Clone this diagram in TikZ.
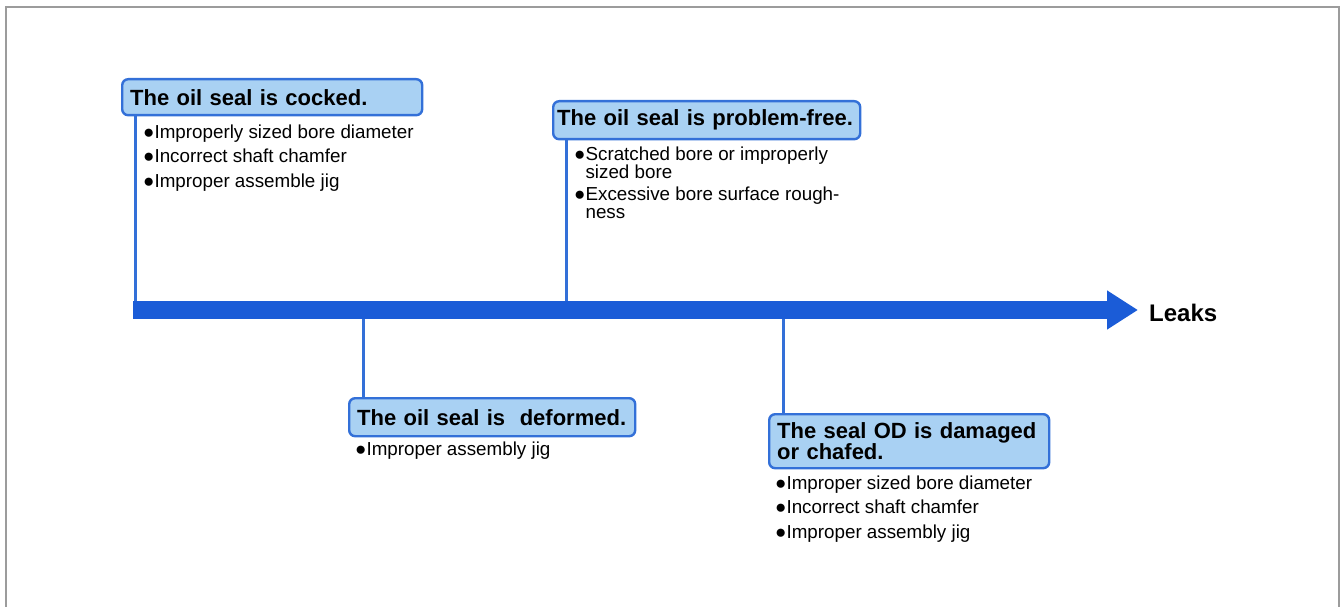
\documentclass[tikz,border=0pt]{standalone}
\usepackage{fontspec}
\setmainfont{Liberation Sans}
\usepackage{tikz}
\usetikzlibrary{arrows.meta, positioning}
\usepackage{xcolor}
\definecolor{sealfill}{HTML}{A9D1F3}
\definecolor{sealedge}{HTML}{3370D8}
\definecolor{barblue}{HTML}{1B5CD7}
\definecolor{framegray}{HTML}{9C9C9C}

\begin{document}
\begin{tikzpicture}[
  x=1pt, y=-1pt,
  cause/.style={
    draw=sealedge, fill=sealfill, line width=2.4pt, rounded corners=6pt,
    font=\bfseries\fontsize{22}{21}\selectfont, align=left,
    anchor=north west, inner xsep=8pt, inner ysep=0pt
  },
  items/.style={font=\fontsize{18.8}{24.5}\selectfont, align=left, inner sep=0pt},
  stem/.style={draw=sealedge, line width=3pt},
  bar/.style={draw=barblue, line width=18pt,
    -{Triangle[length=31pt,width=37pt]}}
]
\useasboundingbox (0,0) rectangle (1342,607);

% ---- frame (open at the bottom)
\draw[framegray, line width=1.6pt] (6,607) |- (1339,7) -- (1339,607);

% ---- the four causes
\node[cause, text width=284pt, minimum height=36pt] (cocked) at (121,78)
  {The oil seal is cocked.};
\node[cause, text width=299pt, inner xsep=4pt, minimum height=38pt] (okseal) at (552,100)
  {The oil seal is problem-free.};
\node[cause, text width=270pt, minimum height=38pt] (deformed) at (348,397)
  {The oil seal is\ \ deformed.};
\node[cause, text width=264pt, minimum height=54pt] (chafed) at (768,413)
  {The seal OD is damaged\\or chafed.};

% ---- what each cause comes from
\node[items, anchor=north west, below right=8pt and 22pt of cocked.south west] (cockedlist)
  {●Improperly sized bore diameter\\●Incorrect shaft chamfer\\●Improper assemble jig};
\node[items, font=\fontsize{18.8}{18.3}\selectfont, anchor=north west,
  below right=6pt and 22pt of okseal.south west] (oklist)
  {●Scratched bore or improperly\\\phantom{●}sized bore\\[3.5pt]
   ●Excessive bore surface rough-\\\phantom{●}ness};
\node[items, anchor=north west, below right=4pt and 7pt of deformed.south west] (deflist)
  {●Improper assembly jig};
\node[items, anchor=north west, below right=6pt and 7pt of chafed.south west] (chafedlist)
  {●Improper sized bore diameter\\●Incorrect shaft chamfer\\●Improper assembly jig};

% ---- main axis
\coordinate (tail) at (133,310);
\node[font=\bfseries\fontsize{24}{24}\selectfont, anchor=west, inner sep=0pt] (leaks)
  at (1149,313) {Leaks};

\draw[stem] ([xshift=14pt]cocked.south west) -- ([xshift=14pt]cocked.south west |- tail);
\draw[stem] ([xshift=14pt]okseal.south west) -- ([xshift=14pt]okseal.south west |- tail);
\draw[stem] ([xshift=15pt]deformed.north west |- tail) -- ([xshift=15pt]deformed.north west);
\draw[stem] ([xshift=15pt]chafed.north west |- tail) -- ([xshift=15pt]chafed.north west);

\draw[bar, shorten >=11pt] (tail) -- (tail -| leaks.west);

\end{tikzpicture}
\end{document}
